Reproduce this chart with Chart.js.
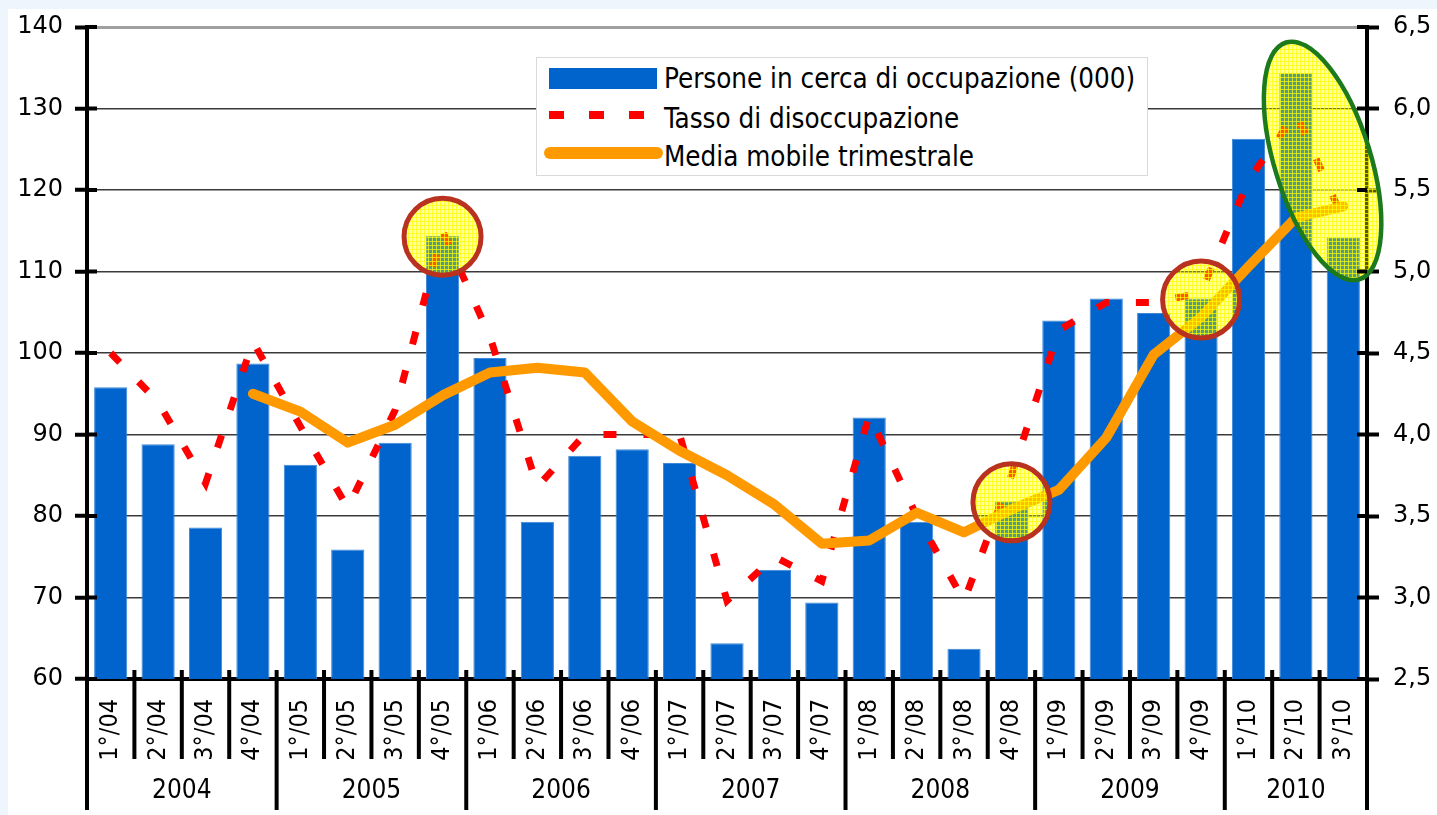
<!DOCTYPE html>
<html>
<head>
<meta charset="utf-8">
<script src="https://cdn.jsdelivr.net/npm/chart.js@4.4.1/dist/chart.umd.min.js"></script>
<style>
  html, body { margin: 0; padding: 0; width: 1437px; height: 815px; overflow: hidden; background: #eef5fd; }
  #wrap { position: absolute; left: 8px; top: 9px; width: 1429px; height: 806px; background: #fff; }
  #legend { position: absolute; left: 536px; top: 57px; width: 610px; height: 117px; background: #fff; border: 1px solid #d9d9d9; }
  #legend .txt { position: absolute; left: 127px; font-family: 'DejaVu Sans Condensed', 'Liberation Sans', sans-serif; font-size: 27.5px; color: #000; line-height: 1; white-space: nowrap; }
  #legend .sw { position: absolute; }
</style>
</head>
<body>
<div id="wrap"><canvas id="chart"></canvas></div>
<div id="legend"></div>
<script>
// =======================================
// DATA
// =======================================
const quarters = [
  "1°/04", "2°/04", "3°/04", "4°/04",
  "1°/05", "2°/05", "3°/05", "4°/05",
  "1°/06", "2°/06", "3°/06", "4°/06",
  "1°/07", "2°/07", "3°/07", "4°/07",
  "1°/08", "2°/08", "3°/08", "4°/08",
  "1°/09", "2°/09", "3°/09", "4°/09",
  "1°/10", "2°/10", "3°/10",
];
const years = ["2004", "2005", "2006", "2007", "2008", "2009", "2010"];
const quartersPerYear = [4, 4, 4, 4, 4, 4, 3];

// Persone in cerca di occupazione (migliaia) - asse sinistro
const persone = [
  95.8, 88.8, 78.6, 98.7,
  86.3, 75.9, 89.0, 114.4,
  99.4, 79.3, 87.4, 88.2,
  86.5, 64.4, 73.4, 69.4,
  92.1, 79.3, 63.7, 81.8,
  104.0, 106.7, 104.9, 106.7,
  126.3, 134.4, 114.2,
];

// Tasso di disoccupazione (%) - asse destro
const tasso = [
  4.5, 4.2, 3.7, 4.57,
  4.05, 3.55, 4.15, 5.25,
  4.6, 3.68, 4.0, 4.0,
  4.0, 2.98, 3.25, 3.1,
  4.12, 3.5, 2.98, 3.75,
  4.64, 4.81, 4.81, 4.87,
  5.56, 5.97, 5.32,
];

// Media mobile trimestrale (%) - asse destro
const mediaMobile = [
  null, null, null, 4.25,
  4.14, 3.95, 4.06, 4.24,
  4.38, 4.41, 4.38, 4.08,
  3.9, 3.75, 3.57, 3.33,
  3.35, 3.52, 3.4, 3.54,
  3.66, 3.98, 4.49, 4.72,
  5.03, 5.33, 5.4,
];

const leftTicks = { min: 60, max: 140, step: 10 };
const rightTicks = { min: 2.5, max: 6.5, step: 0.5 };

// quarters highlighted in the original
const circledQuarters = ["4°/05", "4°/08", "4°/09"];
const ellipseQuarters = ["2°/10", "3°/10"];

// =======================================
// STYLE
// =======================================
const FONT_NUM = "'DejaVu Sans', Verdana, sans-serif";
const FONT_COND = "'DejaVu Sans Condensed', 'Liberation Sans Narrow', 'Liberation Sans', sans-serif";
const BAR_COLOR = "#0064cc";
const RED = "#ff0000";
const ORANGE = "#ff9900";

// =======================================
// PLUGIN: tick stubs, quarter/year separators, highlights
// =======================================
function hatchPattern(ctx) {
  const c = document.createElement("canvas");
  c.width = 4;
  c.height = 4;
  const g = c.getContext("2d");
  g.fillStyle = "rgba(255,255,0,0.35)";
  g.fillRect(0, 0, 4, 4);
  g.fillStyle = "rgba(255,255,0,0.7)";
  g.fillRect(0, 0, 4, 1);
  g.fillRect(0, 0, 1, 4);
  return ctx.createPattern(c, "repeat");
}

const decorPlugin = {
  id: "decor",
  afterDatasetsDraw(chart) {
    const { ctx, scales } = chart;
    const x = scales.x, y = scales.y;
    const fill = hatchPattern(ctx);

    ctx.save();
    // circles
    circledQuarters.forEach((q) => {
      const i = quarters.indexOf(q);
      const cx = x.getPixelForValue(i);
      const cy = y.getPixelForValue(persone[i]) + 1;
      ctx.beginPath();
      ctx.arc(cx, cy, 38.5, 0, Math.PI * 2);
      ctx.fillStyle = fill;
      ctx.fill();
      ctx.lineWidth = 5;
      ctx.strokeStyle = "#b8321f";
      ctx.stroke();
    });

    // ellipse
    const a = quarters.indexOf(ellipseQuarters[0]);
    const b = quarters.indexOf(ellipseQuarters[1]);
    const ex = (x.getPixelForValue(a) + x.getPixelForValue(b)) / 2 + 3;
    const ey = y.getPixelForValue((persone[a] + persone[b]) / 2) + 6;
    ctx.beginPath();
    ctx.ellipse(ex, ey, 48, 124, -0.3, 0, Math.PI * 2);
    ctx.fillStyle = fill;
    ctx.fill();
    ctx.lineWidth = 4.5;
    ctx.strokeStyle = "#1c7a1c";
    ctx.stroke();
    ctx.restore();
  },
  afterDraw(chart) {
    const { ctx, chartArea, scales } = chart;
    const x = scales.x;
    const bottom = chartArea.bottom;
    ctx.save();
    ctx.strokeStyle = "#000";
    ctx.lineWidth = 4;

    // inner tick stubs on the value axes
    ctx.beginPath();
    scales.y.ticks.forEach((t) => {
      const py = scales.y.getPixelForValue(t.value);
      ctx.moveTo(chartArea.left, py);
      ctx.lineTo(chartArea.left + 10, py);
    });
    scales.y1.ticks.forEach((t) => {
      const py = scales.y1.getPixelForValue(t.value);
      ctx.moveTo(chartArea.right - 10, py);
      ctx.lineTo(chartArea.right, py);
    });

    // quarter separators (category boundaries)
    for (let i = 0; i <= quarters.length; i++) {
      const px = x.getPixelForValue(i - 0.5);
      ctx.moveTo(px, bottom - 9);
      ctx.lineTo(px, bottom + 80);
    }

    // year separators and labels
    let start = 0;
    const sepBottom = bottom + 131;
    ctx.moveTo(x.getPixelForValue(-0.5), bottom + 78);
    ctx.lineTo(x.getPixelForValue(-0.5), sepBottom);
    ctx.fillStyle = "#000";
    ctx.font = "26px " + FONT_COND;
    ctx.textAlign = "center";
    ctx.textBaseline = "middle";
    years.forEach((yr, k) => {
      const end = start + quartersPerYear[k];
      const x0 = x.getPixelForValue(start - 0.5);
      const x1 = x.getPixelForValue(end - 0.5);
      ctx.moveTo(x1, bottom + 78);
      ctx.lineTo(x1, sepBottom);
      ctx.fillText(yr, (x0 + x1) / 2, bottom + 112);
      start = end;
    });
    ctx.stroke();
    ctx.restore();
  },
};

// =======================================
// CHART
// =======================================
let chart = null;

function fitVertical(width) {
  return (s) => {
    s.width = width;
    s.paddingTop = 0;
    s.paddingBottom = 0;
  };
}

function initChart() {
  const canvas = document.getElementById("chart");

  chart = new Chart(canvas.getContext("2d"), {
    type: "bar",
    data: {
      labels: quarters,
      datasets: [
        {
          type: "line",
          label: "Media mobile trimestrale",
          data: mediaMobile,
          yAxisID: "y1",
          borderColor: ORANGE,
          borderWidth: 10,
          borderCapStyle: "round",
          borderJoinStyle: "round",
          pointRadius: 0,
          tension: 0,
          order: 1,
        },
        {
          type: "line",
          label: "Tasso di disoccupazione",
          data: tasso,
          yAxisID: "y1",
          borderColor: RED,
          borderWidth: 7,
          borderDash: [13, 27],
          pointRadius: 0,
          tension: 0,
          order: 2,
        },
        {
          type: "bar",
          label: "Persone in cerca di occupazione (000)",
          data: persone,
          yAxisID: "y",
          backgroundColor: BAR_COLOR,
          borderColor: "#3f88d8",
          borderWidth: 1,
          barPercentage: 0.7,
          categoryPercentage: 1,
          order: 3,
        },
      ],
    },
    options: {
      responsive: true,
      maintainAspectRatio: false,
      devicePixelRatio: 1,
      animation: false,
      layout: { padding: { top: 18, left: 0, right: 0, bottom: 0 } },
      plugins: { legend: { display: false }, tooltip: { enabled: false } },
      scales: {
        x: {
          type: "category",
          offset: true,
          afterFit: (s) => { s.height = 136; },
          grid: { display: false, drawTicks: false },
          border: { display: true, color: "#000", width: 4 },
          ticks: {
            autoSkip: false,
            minRotation: 90,
            maxRotation: 90,
            padding: 20,
            color: "#000",
            font: { family: FONT_COND, size: 25 },
          },
        },
        y: {
          position: "left",
          min: leftTicks.min,
          max: leftTicks.max,
          afterFit: fitVertical(79),
          grid: {
            color: (c) => (c.tick && c.tick.value === leftTicks.max ? "#a0a0a0" : "#3a3a3a"),
            lineWidth: (c) => (c.tick && c.tick.value === leftTicks.max ? 3 : 1.5),
            tickLength: 12,
            tickWidth: 4,
            tickColor: "#000",
          },
          border: { display: true, color: "#000", width: 4 },
          ticks: {
            stepSize: leftTicks.step,
            padding: 12,
            color: "#000",
            font: { family: FONT_NUM, size: 24 },
          },
        },
        y1: {
          position: "right",
          min: rightTicks.min,
          max: rightTicks.max,
          afterFit: fitVertical(70),
          grid: {
            drawOnChartArea: false,
            tickLength: 12,
            tickWidth: 4,
            tickColor: "#000",
          },
          border: { display: true, color: "#000", width: 4 },
          ticks: {
            stepSize: rightTicks.step,
            padding: 14,
            color: "#000",
            font: { family: FONT_NUM, size: 24 },
            callback: (v) => Number(v).toFixed(1).replace(".", ","),
          },
        },
      },
    },
    plugins: [decorPlugin],
  });
}

// =======================================
// HTML LEGEND (from the chart datasets)
// =======================================
function buildLegend() {
  const $legend = document.getElementById("legend");
  const rows = [
    { ds: chart.data.datasets[2], textTop: 7, sw: "left:12px;top:10px;width:108px;height:21px;background:" + BAR_COLOR + ";" },
    { ds: chart.data.datasets[1], textTop: 47, sw: "left:12px;top:53px;width:100px;height:8px;background:repeating-linear-gradient(to right," + RED + " 0 15px,transparent 15px 40px);" },
    { ds: chart.data.datasets[0], textTop: 85, sw: "left:7px;top:89px;width:119px;height:12px;border-radius:6px;background:" + ORANGE + ";" },
  ];
  rows.forEach((r) => {
    const sw = document.createElement("div");
    sw.className = "sw";
    sw.style.cssText = sw.style.cssText + r.sw;
    const t = document.createElement("div");
    t.className = "txt";
    t.style.top = r.textTop + "px";
    t.textContent = r.ds.label;
    $legend.appendChild(sw);
    $legend.appendChild(t);
  });
}

document.addEventListener("DOMContentLoaded", () => {
  initChart();
  buildLegend();
});
</script>
</body>
</html>
